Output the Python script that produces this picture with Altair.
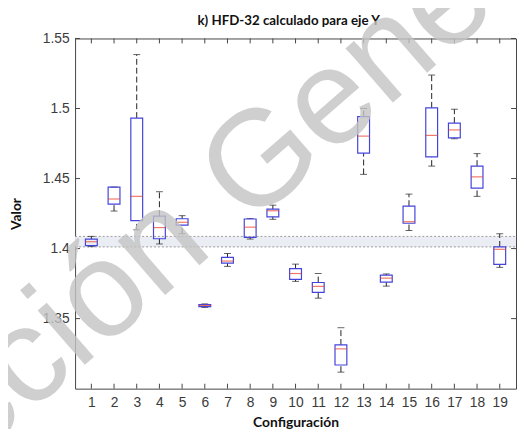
import altair as alt
import pandas as pd

configs = list(range(1, 20))
whisker_low = [1.4014, 1.4268, 1.4134, 1.4033, 1.4106, 1.3580, 1.3873, 1.4068, 1.4209, 1.3766,
               1.3646, 1.3118, 1.4530, 1.3732, 1.4129, 1.4589, 1.4784, 1.4373, 1.3866]
q1 = [1.4021, 1.4317, 1.4199, 1.4070, 1.4167, 1.3585, 1.3896, 1.4080, 1.4227, 1.3780,
      1.3688, 1.3169, 1.4681, 1.3761, 1.4181, 1.4655, 1.4791, 1.4432, 1.3887]
median = [1.4049, 1.4354, 1.4373, 1.4150, 1.4188, 1.3594, 1.3911, 1.4153, 1.4270, 1.3822,
          1.3730, 1.3284, 1.4803, 1.3789, 1.4192, 1.4808, 1.4847, 1.4512, 1.3995]
q3 = [1.4068, 1.4439, 1.4932, 1.4232, 1.4213, 1.3600, 1.3937, 1.4211, 1.4282, 1.3857,
      1.3758, 1.3312, 1.4942, 1.3810, 1.4303, 1.5005, 1.4896, 1.4589, 1.4012]
whisker_high = [1.4087, 1.4439, 1.5385, 1.4406, 1.4235, 1.3605, 1.3965, 1.4215, 1.4310, 1.3889,
                1.3822, 1.3435, 1.5000, 1.3819, 1.4389, 1.5239, 1.4995, 1.4678, 1.4106]
band_low = 1.4012
band_high = 1.4087
y_ticks = [1.35, 1.40, 1.45, 1.50, 1.55]
title_text = "k) HFD-32 calculado para eje Y"
x_title = "Configuración"
y_title = "Valor"
watermark = ["Colección", "General"]

W, H = 447, 355

df = pd.DataFrame({"config": configs, "lo": whisker_low, "q1": q1, "med": median,
                   "q3": q3, "hi": whisker_high})

xs = alt.Scale(domain=[0.5, 19.5], nice=False, zero=False)
ys = alt.Scale(domain=[1.30, 1.55], nice=False, zero=False)

AX_COL = "#444444"
BOX_COL = "#4444dc"
MED_COL = "#e8402a"
WH_COL = "#222222"
LAB_COL = "#3a3a3a"

axis_x = alt.Axis(values=configs, tickSize=0, domain=False, grid=False, labelOverlap=False,
                  labelPadding=7, titlePadding=6)
axis_y = alt.Axis(values=y_ticks, labelExpr="format(datum.value, '~g')", tickSize=0,
                  domain=False, grid=False, labelOverlap=False, labelPadding=6,
                  titlePadding=19)


def X(field):
    return alt.X(field, scale=xs, title=x_title, axis=axis_x)


def Y(field):
    return alt.Y(field, scale=ys, title=y_title, axis=axis_y)


base = alt.Chart(df)

band_df = pd.DataFrame({"lo": [band_low], "hi": [band_high]})
band = alt.Chart(band_df).mark_rect(color="#eaedf4").encode(
    x=alt.value(0), x2=alt.value(W), y=Y("lo:Q"), y2="hi:Q")
band_lines = alt.Chart(pd.DataFrame({"v": [band_low, band_high]})).mark_rule(
    color="#9a9a9a", strokeDash=[2, 2], strokeWidth=1).encode(
    x=alt.value(0), x2=alt.value(W), y=Y("v:Q"))

upper_wh = base.mark_rule(color=WH_COL, strokeDash=[6, 3], strokeWidth=1).encode(
    x=X("config:Q"), y=Y("q3:Q"), y2="hi:Q")
lower_wh = base.mark_rule(color=WH_COL, strokeDash=[6, 3], strokeWidth=1).encode(
    x=X("config:Q"), y=Y("lo:Q"), y2="q1:Q")
cap_hi = base.mark_tick(color=WH_COL, orient="horizontal", size=7, thickness=1).encode(
    x=X("config:Q"), y=Y("hi:Q"))
cap_lo = base.mark_tick(color=WH_COL, orient="horizontal", size=7, thickness=1).encode(
    x=X("config:Q"), y=Y("lo:Q"))
box = base.mark_bar(filled=False, stroke=BOX_COL, strokeWidth=1.2, size=12).encode(
    x=X("config:Q"), y=Y("q1:Q"), y2="q3:Q")
med = base.mark_tick(color=MED_COL, orient="horizontal", size=12, thickness=1.2).encode(
    x=X("config:Q"), y=Y("med:Q"))

xt = alt.Chart(pd.DataFrame({"t": configs}))
xt_top = xt.mark_rule(color=AX_COL).encode(x=X("t:Q"), y=alt.value(0), y2=alt.value(5))
xt_bot = xt.mark_rule(color=AX_COL).encode(x=X("t:Q"), y=alt.value(H - 5), y2=alt.value(H))
yt = alt.Chart(pd.DataFrame({"t": y_ticks}))
yt_left = yt.mark_rule(color=AX_COL).encode(y=Y("t:Q"), x=alt.value(0), x2=alt.value(5))
yt_right = yt.mark_rule(color=AX_COL).encode(y=Y("t:Q"), x=alt.value(W - 5), x2=alt.value(W))

title_mark = alt.Chart(pd.DataFrame({"s": [title_text]})).mark_text(
    font="Lato", fontSize=13.5, fontWeight="bold", color="#111111",
    align="center", baseline="alphabetic").encode(
    text="s:N", x=alt.value(W / 2 - 7), y=alt.value(-14))

wm_df = pd.DataFrame({"a": [watermark[0]], "b": [watermark[1]]})
wm_style = dict(baseline="alphabetic", angle=319, font="Liberation Sans", fontSize=138,
                color="#c4c4c4", opacity=0.8)
wm1 = alt.Chart(wm_df).mark_text(align="right", **wm_style).encode(
    text="a:N", x=alt.value(218 - 76), y=alt.value(252 - 36))
wm2 = alt.Chart(wm_df).mark_text(align="left", **wm_style).encode(
    text="b:N", x=alt.value(252 - 76), y=alt.value(228 - 36))

chart = alt.layer(
    band, band_lines, upper_wh, lower_wh, cap_hi, cap_lo, box, med,
    xt_top, xt_bot, yt_left, yt_right, title_mark, wm1, wm2
).properties(
    width=W, height=H,
    autosize=alt.AutoSizeParams(type="none"),
    padding={"left": 68, "top": 28, "right": 1, "bottom": 38},
).configure_view(stroke=AX_COL, strokeWidth=1).configure_axis(
    labelFont="Liberation Sans", labelFontSize=14, labelColor=LAB_COL,
    titleFont="Lato", titleFontWeight="bold", titleFontSize=14, titleColor="#111111",
    labelOverlap=False)

chart.save("out.html", embed_options={"renderer": "svg", "actions": False})
